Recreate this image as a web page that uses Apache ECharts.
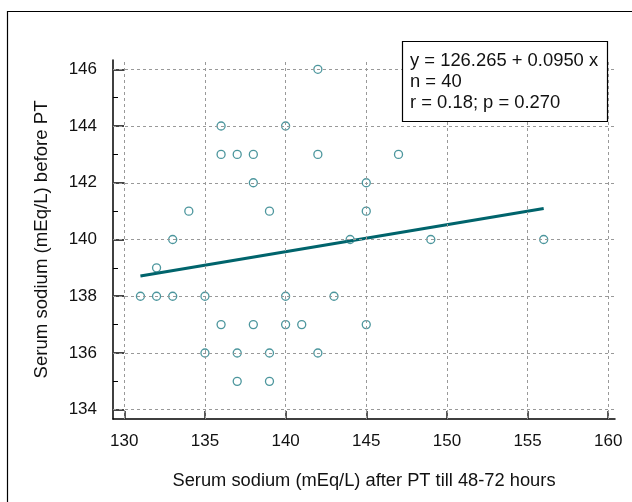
<!DOCTYPE html>
<html>
<head>
<meta charset="utf-8">
<script src="https://cdn.jsdelivr.net/npm/echarts@6/dist/echarts.min.js"></script>
<style>
	html, body { margin: 0; padding: 0; background: #fff; }
	#chart { width: 632px; height: 502px; }
</style>
</head>
<body>
<div id="chart"></div>
<script>
	// serum sodium after PT (x) vs before PT (y)
	var sodiumAfter = [142, 136, 140, 136, 137, 138, 142, 147, 138, 145, 134, 139, 145, 133, 144, 149, 156,
		132, 131, 132, 133, 135, 140, 143, 136, 138, 140, 141, 145, 135, 137, 139, 142, 137, 139];
	var sodiumBefore = [146, 144, 144, 143, 143, 143, 143, 143, 142, 142, 141, 141, 141, 140, 140, 140, 140,
		139, 138, 138, 138, 138, 138, 138, 137, 137, 137, 137, 137, 136, 136, 136, 136, 135, 135];

	// fitted line y = 126.265 + 0.0950 x, drawn over the observed x range
	var fitX = [131, 156];
	var fitY = [138.71, 141.09];

	var xTicks = [130, 135, 140, 145, 150, 155, 160];
	var yTicks = [134, 136, 138, 140, 142, 144, 146];
	var yMinorTicks = [135, 137, 139, 141, 143, 145];

	var statLines = ['y = 126.265 + 0.0950 x', 'n = 40', 'r = 0.18; p = 0.270'];

	var pts = sodiumAfter.map(function(v, i) { return [v, sodiumBefore[i]]; });
	var fitPts = fitX.map(function(v, i) { return [v, fitY[i]]; });

	var font = 'Liberation Sans, Arial, sans-serif';
	var teal = '#1f7c84';

	var myChart = echarts.init(document.getElementById('chart'));
	var option = {
		animation: false,
		grid: { left: 113, right: 17, top: 60, bottom: 83, containLabel: false },
		xAxis: [{
			type: 'value',
			min: 129.3,
			max: 160.42,
			name: 'Serum sodium (mEq/L) after PT till 48-72 hours',
			nameLocation: 'middle',
			nameGap: 53,
			nameTextStyle: { fontFamily: font, fontSize: 18.3, color: '#111' },
			axisLine: { show: true, onZero: false, lineStyle: { color: '#000', width: 1.5 } },
			axisTick: { show: true, inside: true, length: 8, customValues: xTicks, lineStyle: { color: '#222', width: 1.5 } },
			axisLabel: { show: true, customValues: xTicks, margin: 14, fontFamily: font, fontSize: 17, color: '#111' },
			splitLine: { show: false }
		}],
		yAxis: [{
			type: 'value',
			min: 133.673,
			max: 146.327,
			name: 'Serum sodium (mEq/L) before PT',
			nameLocation: 'middle',
			nameGap: 62,
			nameTextStyle: { fontFamily: font, fontSize: 18.6, color: '#111' },
			axisLine: { show: true, onZero: false, lineStyle: { color: '#000', width: 1.5 } },
			axisTick: { show: true, inside: true, length: 11, customValues: yTicks, lineStyle: { color: '#444', width: 2 } },
			axisLabel: { show: true, customValues: yTicks, margin: 16, fontFamily: font, fontSize: 17, color: '#111' },
			splitLine: { show: false }
		}, {
			type: 'value',
			min: 133.673,
			max: 146.327,
			position: 'left',
			axisLine: { show: false },
			axisTick: { show: true, inside: true, length: 5, customValues: yMinorTicks, lineStyle: { color: '#000', width: 1 } },
			axisLabel: { show: false },
			splitLine: { show: false }
		}],
		graphic: [{
			type: 'rect',
			shape: { x: 7.5, y: 11.5, width: 700, height: 600 },
			style: { fill: 'none', stroke: '#000', lineWidth: 1.2 },
			silent: true,
			z: 0
		}, {
			type: 'rect',
			shape: { x: 402.5, y: 41.5, width: 205, height: 80 },
			style: { fill: '#fff', stroke: '#000', lineWidth: 1.2 },
			z: 10
		}, {
			type: 'text',
			left: 410,
			top: 51,
			z: 11,
			style: {
				text: statLines.join('\n'),
				font: '18.4px ' + font,
				lineHeight: 20.8,
				fill: '#111'
			}
		}],
		series: [{
			// dashed grid lines at the major ticks
			type: 'line',
			data: [],
			silent: true,
			markLine: {
				symbol: 'none',
				silent: true,
				label: { show: false },
				lineStyle: { color: '#999', type: [3, 3], width: 1 },
				data: xTicks.map(function(v) {
					return [{ coord: [v, 133.673] }, { coord: [v, 146.327] }];
				}).concat(yTicks.map(function(v) {
					return [{ coord: [129.3, v] }, { coord: [160.42, v] }];
				}))
			}
		}, {
			name: 'fit',
			type: 'line',
			data: fitPts,
			symbol: 'none',
			lineStyle: { color: '#00646c', width: 3 },
			z: 3
		}, {
			name: 'patients',
			type: 'scatter',
			data: pts,
			symbol: 'circle',
			symbolSize: 8,
			itemStyle: { color: 'rgba(255,255,255,0)', borderColor: teal, borderWidth: 1.3 },
			z: 4
		}]
	};
	myChart.setOption(option);
</script>
</body>
</html>
